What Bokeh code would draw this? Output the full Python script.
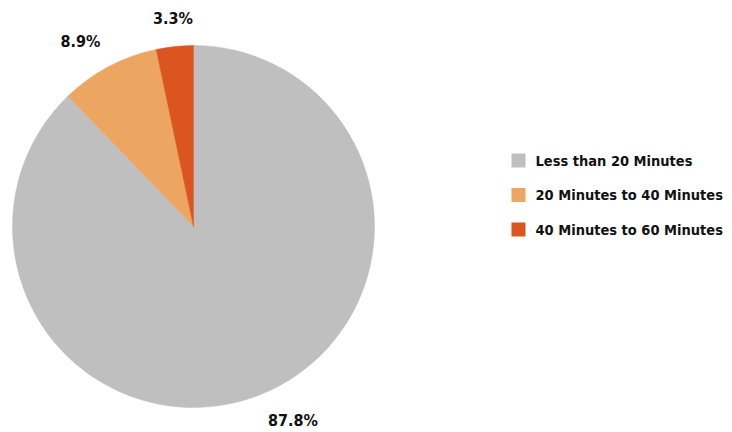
import math
from bokeh.plotting import figure
from bokeh.models import ColumnDataSource
from bokeh.core.properties import value
from bokeh.embed import file_html
from bokeh.resources import INLINE

categories = ["Less than 20 Minutes", "20 Minutes to 40 Minutes", "40 Minutes to 60 Minutes"]
shares = [87.8, 8.9, 3.3]
labels = ["87.8%", "8.9%", "3.3%"]
colors = ["#BFBFBF", "#EDA562", "#DA5520"]

FONT = "'DejaVu Sans Condensed', 'Roboto', sans-serif"
W, H = 732, 432
cx, cy, R = 193, 206, 181

p = figure(width=W, height=H, x_range=(0, W), y_range=(0, H),
           output_backend="svg", toolbar_location=None, min_border=0)
p.axis.visible = False
p.grid.visible = False
p.outline_line_color = None
p.background_fill_color = "white"

total = sum(shares)
start = math.pi / 2
starts, ends, lx, ly, al, bl = [], [], [], [], [], []
for s in shares:
    sweep = 2 * math.pi * s / total
    end = start - sweep
    starts.append(start)
    ends.append(end)
    mid = (start + end) / 2
    c, sn = math.cos(mid), math.sin(mid)
    lx.append(cx + R * 1.1 * c)
    ly.append(cy + R * 1.1 * sn)
    al.append("center" if abs(c) < 0.2 else ("left" if c > 0 else "right"))
    bl.append("top" if sn < 0 else "bottom")
    start = end

src = ColumnDataSource(dict(start=starts, end=ends, color=colors, lx=lx, ly=ly,
                            label=labels, align=al, base=bl))
p.wedge(x=cx, y=cy, radius=R, start_angle="end", end_angle="start",
        fill_color="color", line_color="color", line_width=0.5, source=src)
p.text(x="lx", y="ly", text="label", source=src, text_align="align", text_baseline="base",
       text_font=value(FONT), text_font_style="bold", text_font_size="16px", text_color="#111111")

# legend
row_y = [H - 160 - 34.5 * i for i in range(len(categories))]
leg = ColumnDataSource(dict(x=[518] * 3, tx=[535] * 3, y=row_y, color=colors, name=categories))
p.rect(x="x", y="y", width=14, height=14, fill_color="color", line_color=None, source=leg)
p.text(x="tx", y="y", text="name", source=leg, text_align="left", text_baseline="middle",
       text_font=value(FONT), text_font_style="bold", text_font_size="14.5px", text_color="#111111")

open("out.html", "w").write(file_html(p, INLINE))
